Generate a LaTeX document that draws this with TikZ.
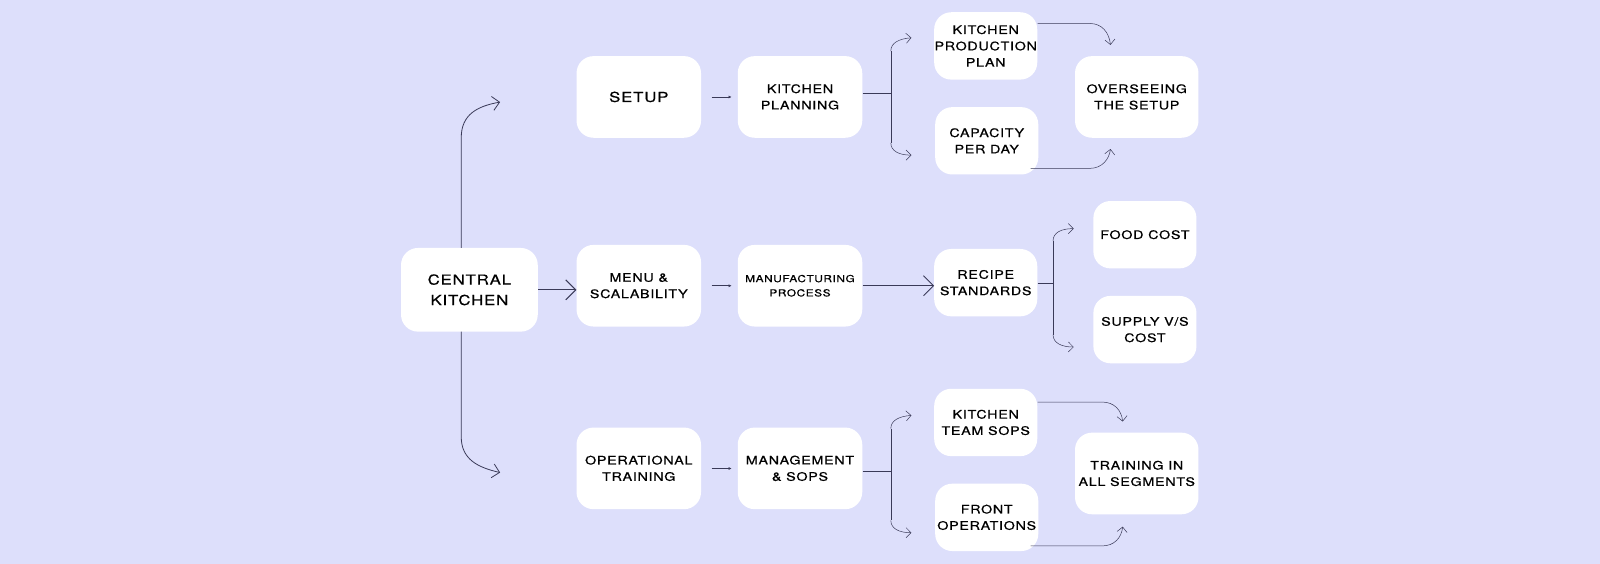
\documentclass[tikz,border=0pt]{standalone}
\usepackage{fontspec}
\setmainfont{TeX Gyre Heros}[FakeStretch=1.22,LetterSpace=6,FakeBold=0.6]
\usetikzlibrary{arrows.meta}
\definecolor{bg}{HTML}{DDDFFB}
\definecolor{ln}{HTML}{3A3A58}
\begin{document}
\begin{tikzpicture}[x=1pt,y=-1pt,scale=1.0204,transform shape,
 box/.style={fill=white,rounded corners=17pt,align=center,inner sep=0pt,font=\fontsize{11.5}{16}\selectfont},
 big/.style={box,minimum width=122pt,minimum height=80pt},
 sm/.style={box,minimum width=101pt,minimum height=66pt},
 ln/.style={draw=ln,line width=0.8pt},
 open/.style={ln,-{Straight Barb[length=7pt,width=14pt,line width=0.8pt]}},
 bigopen/.style={ln,line width=1pt,-{Straight Barb[length=10pt,width=20pt,line width=1pt]}},
 thin/.style={ln,line width=0.5pt,-{Straight Barb[length=5pt,width=10pt,line width=0.5pt]}},
 tiny/.style={ln,line width=0.7pt,-{Latex[length=3pt,width=3pt]}}]
\fill[bg] (0,0) rectangle (1568,552.7);
\useasboundingbox (0,0) rectangle (1568,552.7);
\node[big,minimum width=134pt,minimum height=82pt,font=\fontsize{13.5}{20}\selectfont] (ck) at (460,284) {CENTRAL\\KITCHEN};
\node[big,font=\fontsize{13.5}{17}\selectfont] (setup) at (626,95) {SETUP};
\node[big] (kp) at (784,95) {KITCHEN\\PLANNING};
\node[big] (menu) at (626,280) {MENU \&\\SCALABILITY};
\node[big,font=\fontsize{9.5}{14}\selectfont] (mp) at (784,280) {MANUFACTURING\\PROCESS};
\node[big] (op) at (626,459) {OPERATIONAL\\TRAINING};
\node[big] (ms) at (784,459) {MANAGEMENT\\\& SOPS};
\node[sm] (kpp) at (966,45) {KITCHEN\\PRODUCTION\\PLAN};
\node[sm] (cap) at (967,138) {CAPACITY\\PER DAY};
\node[big,minimum width=121pt] (ov) at (1114,95) {OVERSEEING\\THE SETUP};
\node[sm] (rs) at (966,277) {RECIPE\\STANDARDS};
\node[sm] (fc) at (1122,230) {FOOD COST};
\node[sm] (sc) at (1122,323) {SUPPLY V/S\\COST};
\node[sm] (kts) at (966,414) {KITCHEN\\TEAM SOPS};
\node[sm] (fo) at (967,507) {FRONT\\OPERATIONS};
\node[big,minimum width=121pt] (tr) at (1114,464) {TRAINING IN\\ALL SEGMENTS};
\coordinate (a1) at (490,100); \coordinate (a2) at (490,463);
\coordinate (b1) at (893,37); \coordinate (b2) at (893,152);
\coordinate (c1) at (1052,224); \coordinate (c2) at (1052,340);
\coordinate (d1) at (893,407); \coordinate (d2) at (893,522);
\coordinate (e1) at (1088,44); \coordinate (e2) at (1088,146);
\coordinate (f1) at (1100,413); \coordinate (f2) at (1100,516);
\draw[open] (452,243) -- (452,135) .. controls (452,112) and (468,104) .. (a1);
\draw[open] (452,325) -- (452,428) .. controls (452,450) and (468,458) .. (a2);
\draw[bigopen] (ck.east |- 0,284) -- (menu.west |- 0,284);
\draw[bigopen] (mp.east |- 0,280) -- (rs.west |- 0,280);
\draw[tiny] ([xshift=10pt]setup.east) -- ([xshift=-6pt]kp.west);
\draw[tiny] ([xshift=10pt]menu.east) -- ([xshift=-6pt]mp.west);
\draw[tiny] ([xshift=10pt]op.east) -- ([xshift=-6pt]ms.west);
\foreach \src/\y/\t/\b/\up/\dn/\xv in {kp/92/50/140/b1/b2/873, ms/462/420/510/d1/d2/873, rs/278/236/328/c1/c2/1032}{
  \draw[ln] (\src.east |- 0,\y) -- (\xv,\y);
  \draw[ln,line width=0.6pt] (\xv,\t) -- (\xv,\b);
  \draw[thin] (\xv,\t) .. controls (\xv,\t-8) and (\xv+8,\t-12) .. (\up);
  \draw[thin] (\xv,\b) .. controls (\xv,\b+8) and (\xv+8,\b+12) .. (\dn);
}
\draw[thin] (kpp.east |- 0,23) -- (1068,23) .. controls (1080,23) and (1087,32) .. (e1);
\draw[thin] (1010,165) -- (1068,165) .. controls (1080,165) and (1087,156) .. (e2);
\draw[thin] (kts.east |- 0,394) -- (1080,394) .. controls (1092,394) and (1099,402) .. (f1);
\draw[thin] (1010,535) -- (1080,535) .. controls (1092,535) and (1099,527) .. (f2);
\end{tikzpicture}
\end{document}
